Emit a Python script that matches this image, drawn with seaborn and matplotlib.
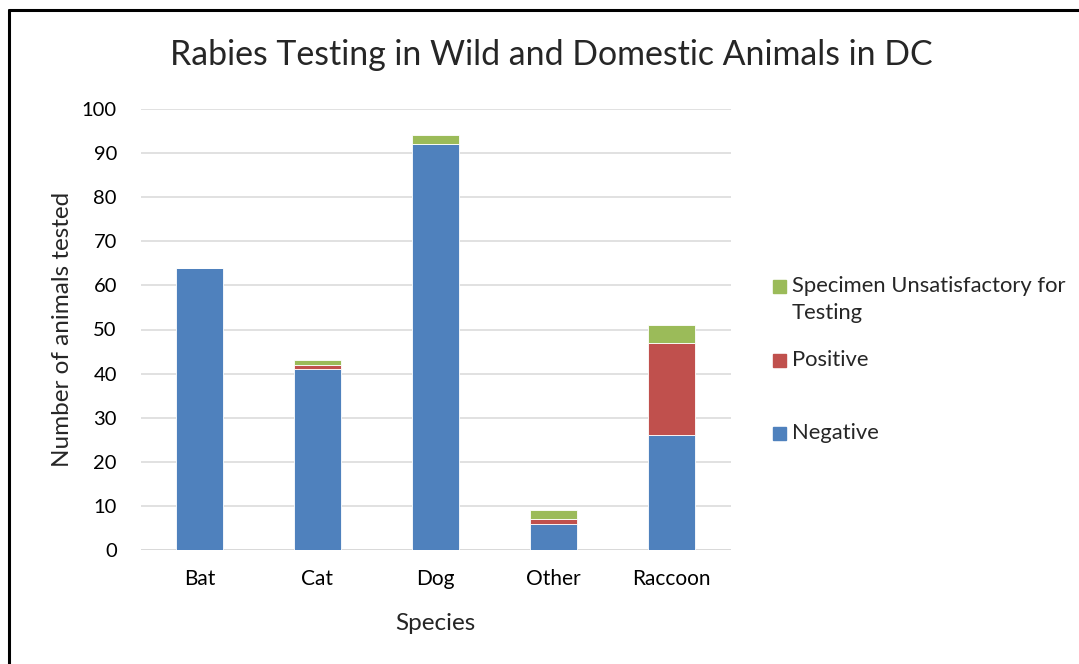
import matplotlib.pyplot as plt
import matplotlib.lines as mlines
import numpy as np
import seaborn as sns

species = ["Bat", "Cat", "Dog", "Other", "Raccoon"]
negative = [64, 41, 92, 6, 26]
positive = [0, 1, 0, 1, 21]
unsatisfactory = [0, 1, 2, 2, 4]

series_labels = ["Negative", "Positive", "Specimen Unsatisfactory for\nTesting"]
series_colors = ["#4f81bd", "#c0504d", "#9bbb59"]

sns.set_style("white")
plt.rcParams["font.family"] = ["Lato", "DejaVu Sans"]

W, H = 1079, 664
fig = plt.figure(figsize=(W / 100, H / 100), dpi=100)
ax = fig.add_axes([140.5 / W, 1 - 550 / H, 590 / W, 441 / H])

# stacked bars, bottom to top
bottom = np.zeros(len(species))
for vals, col in zip([negative, positive, unsatisfactory], series_colors):
    sns.barplot(x=species, y=vals, bottom=bottom, color=col, width=0.4, saturation=1,
                edgecolor="white", linewidth=0.6, ax=ax, zorder=3)
    bottom = bottom + np.array(vals)

ax.set_ylim(0, 100)
ax.set_xlim(-0.5, 4.5)
ax.set_yticks(range(0, 101, 10))
ax.yaxis.grid(True, color="#d9d9d9", linewidth=1.1, zorder=0)
ax.set_axisbelow(True)
for s in ax.spines.values():
    s.set_visible(False)
ax.axhline(0, color="#d9d9d9", linewidth=1.3, zorder=1)
ax.tick_params(axis="both", length=0, labelsize=15, colors="black")
ax.tick_params(axis="y", labelsize=14.5, pad=17)
ax.tick_params(axis="x", pad=14)
ax.set_xlabel("Species", fontsize=17.5, labelpad=17)
ax.set_ylabel("Number of animals tested", fontsize=17.5, labelpad=6)

fig.text(551 / W, 1 - 55 / H, "Rabies Testing in Wild and Domestic Animals in DC",
         ha="center", va="center", fontsize=24.4)

# legend entries, drawn top to bottom like the original
legend_y = [286, 360, 433]
for lab, col, y in zip(series_labels[::-1], series_colors[::-1], legend_y):
    fig.patches.append(plt.Rectangle((773 / W, 1 - (y + 6.5) / H), 13 / W, 13 / H,
                                     color=col, transform=fig.transFigure))
    for i, line in enumerate(lab.split("\n")):
        fig.text(792 / W, 1 - (y + 27 * i) / H, line, ha="left", va="center",
                 fontsize=15.8)

# chart border (only left/top visible in the crop)
fig.lines.append(mlines.Line2D([9 / W, 9 / W], [0, 1 - 10 / H], color="black",
                               linewidth=2.2, transform=fig.transFigure))
fig.lines.append(mlines.Line2D([9 / W, 1], [1 - 10 / H, 1 - 10 / H], color="black",
                               linewidth=2.2, transform=fig.transFigure))

fig.savefig("out.png", dpi=100)
